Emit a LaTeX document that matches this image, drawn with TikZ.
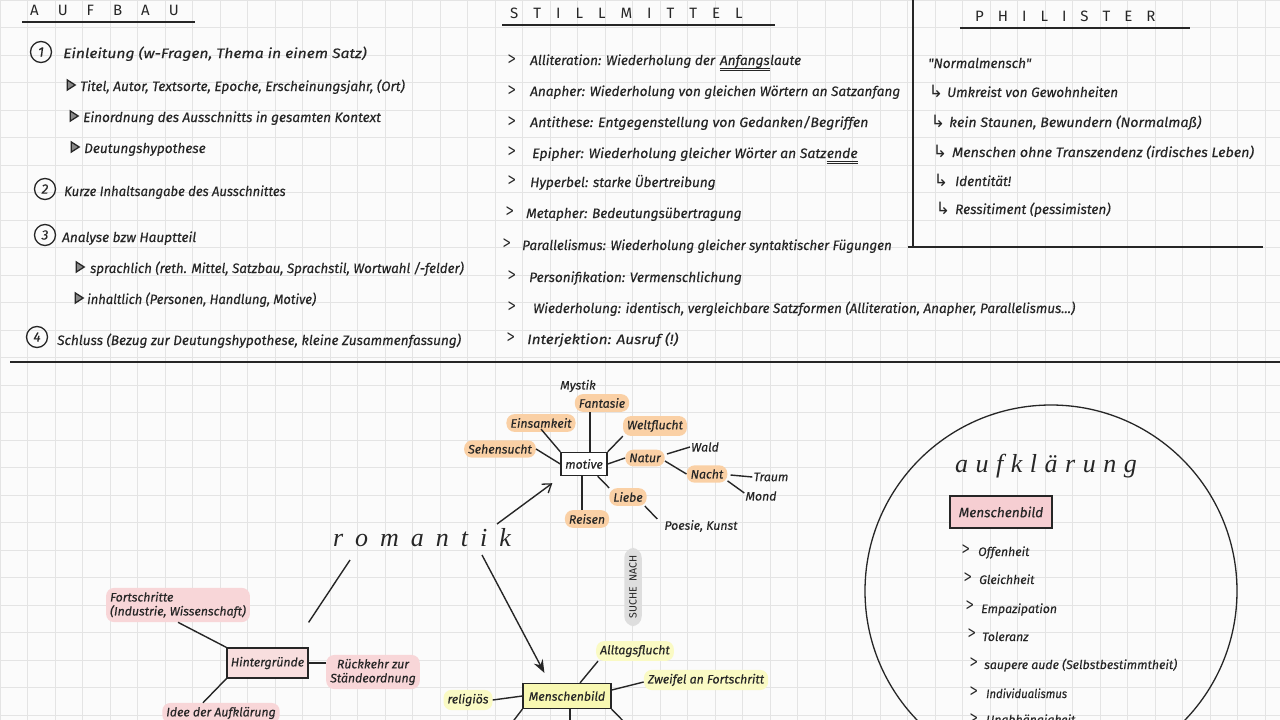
\documentclass[tikz,border=0pt]{standalone}
\usepackage{fontspec}
\usepackage{graphicx}
\setmainfont{Fira Sans}
\newfontfamily\handfam{Fira Sans}[FakeBold=0.3]
\newfontfamily\symf{DejaVu Sans}
\newfontfamily\cursf{Liberation Serif}
\usetikzlibrary{arrows.meta,calc,shapes.geometric}
\definecolor{ink}{RGB}{38,38,38}
\definecolor{paper}{RGB}{251,251,251}
\definecolor{gridc}{RGB}{228,228,228}
\definecolor{orhl}{RGB}{250,208,165}
\definecolor{pkhl}{RGB}{248,214,216}
\definecolor{ylhl}{RGB}{250,250,196}
\definecolor{ylbox}{RGB}{248,248,178}
\definecolor{pkbox}{RGB}{248,222,222}
\definecolor{pkbox2}{RGB}{246,206,210}
\definecolor{pill}{RGB}{222,222,222}
\newcommand\hand{\handfam\fontsize{13.6}{15}\selectfont\itshape}
\newcommand\hsmall{\handfam\fontsize{12.3}{14}\selectfont\itshape}
\newcommand\headf{\fontsize{15}{16}\selectfont}
\newcommand\lsp[1]{\hspace{#1pt}}
\newcommand\chv{\scalebox{0.6}[1.0]{>}}
\tikzset{
  hw/.style={anchor=base west,inner sep=0pt,font=\hand,text=ink},
  hs/.style={anchor=base west,inner sep=0pt,font=\hsmall,text=ink},
  head/.style={anchor=base west,inner sep=0pt,font=\headf,text=ink},
  num/.style={circle,draw=ink,line width=1.3pt,inner sep=0pt,minimum size=21pt,font=\hand,text=ink},
  tri/.style={isosceles triangle,isosceles triangle apex angle=65,draw=ink,fill=ink!55,line width=1.3pt,inner sep=0pt,minimum height=8pt,minimum width=8pt},
  chev/.style={inner sep=0pt,font=\symf\fontsize{17}{17}\selectfont,text=ink},
  hook/.style={inner sep=0pt,font=\symf\fontsize{17}{17}\selectfont,text=ink},
  rule/.style={draw=ink,line width=1.2pt},
  con/.style={draw=ink,line width=1.4pt},
  plain/.style={inner sep=1pt,font=\hsmall,text=ink},
  hlo/.style={fill=orhl,rounded corners=8pt,inner xsep=4pt,inner ysep=4pt,font=\hsmall,text=ink},
  hlp/.style={fill=pkhl,rounded corners=8pt,inner sep=4pt,font=\hsmall,text=ink,align=left},
  hly/.style={fill=ylhl,rounded corners=8pt,inner sep=4pt,font=\hsmall,text=ink},
  boxo/.style={draw=ink,line width=1.4pt,fill=white,minimum width=46pt,minimum height=23pt,inner sep=1pt,font=\hsmall,text=ink},
  boxp/.style={draw=ink,line width=1.2pt,fill=pkbox,minimum width=81pt,minimum height=30pt,inner sep=1pt,font=\hsmall,text=ink},
  boxy/.style={draw=ink,line width=1.2pt,fill=ylbox,minimum width=88pt,minimum height=25pt,inner sep=1pt,font=\hsmall,text=ink},
  boxk/.style={draw=ink,line width=1.2pt,fill=pkbox2,minimum width=102pt,minimum height=32pt,inner sep=1pt,font=\hand,text=ink},
  curs/.style={inner sep=0pt,font=\cursf\itshape\fontsize{26}{26}\selectfont,text=ink},
  arrA/.style={con,-{Straight Barb[length=8pt,width=11pt,line width=1.3pt]}},
  arrB/.style={con,-{Stealth[length=13pt,width=10pt]}},
}
\begin{document}
\begin{tikzpicture}[x=1pt,y=-1pt]
\useasboundingbox (0,0) rectangle (1280,720);
\clip (0,0) rectangle (1280,720);
\fill[paper] (0,0) rectangle (1280,720);
\draw[gridc,line width=0.7pt,xstep=27.5pt,ystep=27.5pt] (0,0) grid (1280,720);

% ---------------- AUFBAU ----------------
\node[head] (hA) at (30,15) {A\lsp{19}U\lsp{19}F\lsp{19}B\lsp{19}A\lsp{19}U};
\draw[rule] (22,22) -- (195,22);
\node[num] (c1) at (41,52) {1};
\node[hw,xscale=1.15] (t1) at (63,58) {Einleitung (w-Fragen, Thema in einem Satz)};
\node[tri] (b1) at (70,85) {};
\node[hw] (t11) at (80,91) {Titel, Autor, Textsorte, Epoche, Erscheinungsjahr, (Ort)};
\node[tri] (b2) at (73,116) {};
\node[hw] (t12) at (83,122) {Einordnung des Ausschnitts in gesamten Kontext};
\node[tri] (b3) at (74,147) {};
\node[hw] (t13) at (84,153) {Deutungshypothese};
\node[num] (c2) at (45,189) {2};
\node[hw,xscale=0.96] (t2) at (64,196) {Kurze Inhaltsangabe des Ausschnittes};
\node[num] (c3) at (45,235) {3};
\node[hw] (t3) at (62,242) {Analyse bzw Hauptteil};
\node[tri] (b4) at (79,267) {};
\node[hw,xscale=0.98] (t31) at (90,273) {sprachlich (reth. Mittel, Satzbau, Sprachstil, Wortwahl /-felder)};
\node[tri] (b5) at (78,298) {};
\node[hw,xscale=0.95] (t32) at (87,304) {inhaltlich (Personen, Handlung, Motive)};
\node[num] (c4) at (37,337) {4};
\node[hw] (t4) at (57,345) {Schluss (Bezug zur Deutungshypothese, kleine Zusammenfassung)};

% ---------------- STILLMITTEL ----------------
\node[head] (hS) at (510,18) {S\lsp{15}T\lsp{15}I\lsp{15}L\lsp{15}L\lsp{15}M\lsp{15}I\lsp{15}T\lsp{15}T\lsp{15}E\lsp{15}L};
\draw[rule] (502,25) -- (775,25);
\node[chev] (s1c) at (512,60) {\chv};
\node[hw] (s1) at (530,65) {Alliteration: Wiederholung der};
\node[hw] (s1u) at ($(s1.base east)+(4.5,0)$) {Anfangs};
\node[hw] (s1v) at (s1u.base east) {laute};
\draw[ink,line width=0.9pt] ($(s1u.base west)+(0,3)$) -- ($(s1u.base east)+(0,3)$);
\draw[ink,line width=0.9pt] ($(s1u.base west)+(0,5.5)$) -- ($(s1u.base east)+(0,5.5)$);
\node[chev] (s2c) at (512,91) {\chv};
\node[hw] (s2) at (530,96) {Anapher: Wiederholung von gleichen Wörtern an Satzanfang};
\node[chev] (s3c) at (512,122) {\chv};
\node[hw,xscale=1.04] (s3) at (530,127) {Antithese: Entgegenstellung von Gedanken/Begriffen};
\node[chev] (s4c) at (512,152) {\chv};
\node[hw,xscale=1.03] (s4) at (532,158) {Epipher: Wiederholung gleicher Wörter an Satz};
\node[hw,xscale=1.03] (s4u) at (s4.base east) {ende};
\draw[ink,line width=0.9pt] ($(s4u.base west)+(0,3)$) -- ($(s4u.base east)+(0,3)$);
\draw[ink,line width=0.9pt] ($(s4u.base west)+(0,5.5)$) -- ($(s4u.base east)+(0,5.5)$);
\node[chev] (s5c) at (512,181) {\chv};
\node[hw] (s5) at (530,187) {Hyperbel: starke Übertreibung};
\node[chev] (s6c) at (510,212) {\chv};
\node[hw] (s6) at (526,218) {Metapher: Bedeutungsübertragung};
\node[chev] (s7c) at (507,244) {\chv};
\node[hw,xscale=0.98] (s7) at (522,250) {Parallelismus: Wiederholung gleicher syntaktischer Fügungen};
\node[chev] (s8c) at (512,276) {\chv};
\node[hw] (s8) at (529,282) {Personifikation: Vermenschlichung};
\node[chev] (s9c) at (512,307) {\chv};
\node[hw,xscale=0.99] (s9) at (533,313) {Wiederholung: identisch, vergleichbare Satzformen (Alliteration, Anapher, Parallelismus...)};
\node[chev] (s10c) at (511,338) {\chv};
\node[hw,xscale=1.13] (s10) at (527,344) {Interjektion: Ausruf (!)};

% ---------------- PHILISTER ----------------
\draw[rule] (913,0) -- (913,247);
\draw[rule] (908,247) -- (1263,247);
\node[head] (hP) at (975,21) {P\lsp{14}H\lsp{14}I\lsp{14}L\lsp{14}I\lsp{14}S\lsp{14}T\lsp{14}E\lsp{14}R};
\draw[rule] (960,28) -- (1190,28);
\node[hw] (p0) at (928,68) {"Normalmensch"};
\node[hook] (p1h) at (936,91) {↳};
\node[hw] (p1) at (947,97) {Umkreist von Gewohnheiten};
\node[hook] (p2h) at (938,121) {↳};
\node[hw,xscale=1.05] (p2) at (949,127) {kein Staunen, Bewundern (Normalmaß)};
\node[hook] (p3h) at (940,151) {↳};
\node[hw,xscale=1.05] (p3) at (952,157) {Menschen ohne Transzendenz (irdisches Leben)};
\node[hook] (p4h) at (941,180) {↳};
\node[hw] (p4) at (955,186) {Identität!};
\node[hook] (p5h) at (943,208) {↳};
\node[hw] (p5) at (955,214) {Ressitiment (pessimisten)};

% divider
\draw[ink,line width=2pt] (10,362) -- (1280,362);

% ---------------- ROMANTIK ----------------
\node[curs] (rom) at (422,538) {r\lsp{12}o\lsp{12}m\lsp{12}a\lsp{12}n\lsp{12}t\lsp{12}i\lsp{12}k};

% motive cluster
\node[boxo] (mot) at (584,464) {motive};
\node[hlo] (fan) at (602,403) {Fantasie};
\node[plain] (mys) at (578,386) {Mystik};
\node[hlo] (ein) at (541,423) {Einsamkeit};
\node[hlo] (seh) at (500,449) {Sehensucht};
\node[hlo] (wel) at (655,426) {Weltflucht};
\node[hlo] (nat) at (645,458) {Natur};
\node[plain] (wal) at (705,447) {Wald};
\node[hlo] (nac) at (707,474) {Nacht};
\node[plain] (tra) at (771,477) {Traum};
\node[plain] (mon) at (761,496) {Mond};
\node[hlo] (lie) at (628,497) {Liebe};
\node[hlo] (rei) at (587,519) {Reisen};
\node[plain] (poe) at (701,526) {Poesie, Kunst};

\draw[con] ($(mot.north)+(6,0)$) -- ($(fan.south)+(-12,0)$);
\draw[con] (mot.north west) -- ($(ein.south)+(0,-3)$);
\draw[con] (mot.west) -- (seh.east);
\draw[con] (mot.north east) -- (wel.south west);
\draw[con] (mot.east) -- (nat.west);
\draw[con] ($(mot.south east)+(-10,0)$) -- (lie.north west);
\draw[con] ($(mot.south)+(-2,0)$) -- ($(rei.north)+(-5,0)$);
\draw[con] ($(nat.east)+(2,-4)$) -- (wal.west);
\draw[con] ($(nat.east)+(0,3)$) -- (nac.west);
\draw[con] ($(nac.east)+(3,1)$) -- (tra.west);
\draw[con] ($(nac.south east)+(0,-2)$) -- ($(mon.west)+(0,-3)$);
\draw[con] ($(lie.south east)+(-2,0)$) -- ($(poe.north west)+(-6,0)$);

\draw[arrA] ($(rom.center)+(75,-14)$) -- ($(mot.south west)+(-8,7)$);

% suche nach
\node[fill=pill,rounded corners=10pt,inner xsep=8pt,inner ysep=5pt,rotate=90,font=\fontsize{10.5}{11}\selectfont,text=ink] (such) at (633,587) {SUCHE\hspace{5pt}NACH};

% Hintergruende cluster
\node[boxp] (hint) at (267.5,663) {Hintergründe};
\node[hlp] (fort) at (178,605) {Fortschritte\\(Industrie, Wissenschaft)};
\node[hlp,align=center] (rue) at (373,672) {Rückkehr zur\\Ständeordnung};
\node[hlp] (idee) at (221,713) {Idee der Aufklärung};
\draw[con] (hint.north west) -- (fort.south);
\draw[con] (hint.east) -- (hint.east -| rue.west);
\draw[con] (hint.south west) -- ($(idee.north)+(-18,0)$);
\draw[con] ($(hint.north east)+(0,-25)$) -- ($(rom.center)+(-72,22)$);

% Menschenbild cluster
\node[boxy] (mb) at (567,696) {Menschenbild};
\node[hly] (all) at (635,651) {Alltagsflucht};
\node[hly] (zwe) at (706,680) {Zweifel an Fortschritt};
\node[hly] (rel) at (468,700) {religiös};
\coordinate (mbx1) at (508,728);
\coordinate (mbx2) at (570,728);
\coordinate (mbx3) at (630,728);
\draw[con] ($(mb.north)+(13,0)$) -- ($(all.south west)+(2,0)$);
\draw[con] ($(mb.east)+(0,-6)$) -- ($(zwe.west)+(0,2)$);
\draw[con] (rel.east) -- (mb.west);
\draw[con] (mb.south west) -- (mbx1);
\draw[con] ($(mb.south)+(3,0)$) -- (mbx2);
\draw[con] (mb.south east) -- (mbx3);
\draw[arrB] ($(rom.center)+(60,17)$) -- ($(mb.north west)+(22,-10)$);

% ---------------- AUFKLAERUNG circle ----------------
\node[circle,draw=ink,line width=1.3pt,minimum size=372pt,inner sep=0pt] (kreis) at (1051,591) {};
\node[curs] (auf) at (1046,466) {a\lsp{7.5}u\lsp{7.5}f\lsp{7.5}k\lsp{7.5}l\lsp{7.5}ä\lsp{7.5}r\lsp{7.5}u\lsp{7.5}n\lsp{7.5}g};
\node[boxk] (mk) at (1001,512) {Menschenbild};
\node[chev] (k1c) at (966,550) {\chv};
\node[hs] (k1) at (978,556) {Offenheit};
\node[chev] (k2c) at (968,578) {\chv};
\node[hs] (k2) at (979,584) {Gleichheit};
\node[chev] (k3c) at (970,606) {\chv};
\node[hs] (k3) at (981,613) {Empazipation};
\node[chev] (k4c) at (972,634) {\chv};
\node[hs] (k4) at (982,641) {Toleranz};
\node[chev] (k5c) at (974,663) {\chv};
\node[hs] (k5) at (984,669) {saupere aude (Selbstbestimmtheit)};
\node[chev] (k6c) at (974,692) {\chv};
\node[hs,xscale=0.92] (k6) at (986,698) {Individualismus};
\node[chev] (k7c) at (974,719) {\chv};
\node[hs] (k7) at (986,724) {Unabhängigkeit};
\end{tikzpicture}
\end{document}
